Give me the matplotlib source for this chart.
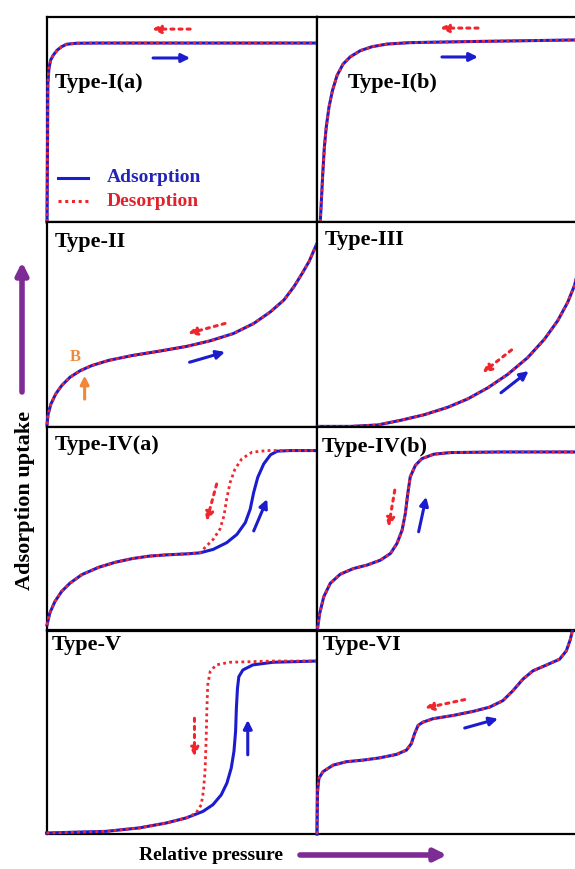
import matplotlib.pyplot as plt

plt.rcParams["font.family"] = ["Liberation Serif", "DejaVu Serif"]
plt.rcParams["font.weight"] = "bold"

BLUE = "#1c1ccf"
RED = "#f0262e"
PURPLE = "#7d2c96"
ORANGE = "#f0883a"

# isotherm shapes (relative pressure 0-1, uptake 0-1)
t1a_x = [0.002, 0.004, 0.005, 0.009, 0.015, 0.025, 0.040, 0.056, 0.074, 0.111, 0.198, 1.0]
t1a_y = [0.0, 0.428, 0.674, 0.748, 0.789, 0.814, 0.839, 0.855, 0.867, 0.872, 0.873, 0.873]

t1b_x = [0.012, 0.016, 0.021, 0.027, 0.034, 0.044, 0.057, 0.074, 0.096, 0.123, 0.160, 0.203,
         0.258, 0.344, 0.554, 0.953, 1.0]
t1b_y = [0.0, 0.099, 0.230, 0.362, 0.461, 0.559, 0.641, 0.715, 0.770, 0.806, 0.836, 0.855,
         0.868, 0.875, 0.880, 0.888, 0.889]

t2_x = [0.002, 0.006, 0.016, 0.034, 0.056, 0.087, 0.125, 0.168, 0.230, 0.318, 0.417, 0.517,
        0.604, 0.691, 0.766, 0.828, 0.878, 0.915, 0.946, 0.971, 0.990, 0.998]
t2_y = [0.013, 0.062, 0.111, 0.161, 0.202, 0.243, 0.275, 0.300, 0.325, 0.349, 0.370, 0.393,
        0.420, 0.456, 0.505, 0.562, 0.620, 0.685, 0.751, 0.808, 0.866, 0.890]

t3_x = [0.002, 0.125, 0.224, 0.310, 0.396, 0.482, 0.556, 0.630, 0.704, 0.777, 0.839, 0.888,
        0.925, 0.950, 0.956, 1.0]
t3_y = [0.003, 0.003, 0.010, 0.033, 0.060, 0.096, 0.137, 0.191, 0.257, 0.338, 0.428, 0.518,
        0.608, 0.690, 0.722, 0.880]

t4a_ads_x = [0.002, 0.012, 0.031, 0.056, 0.087, 0.131, 0.193, 0.255, 0.318, 0.380, 0.442, 0.517,
             0.567, 0.616, 0.666, 0.704, 0.735, 0.753, 0.766, 0.781, 0.803, 0.828, 0.853, 0.903, 1.0]
t4a_ads_y = [0.025, 0.083, 0.140, 0.190, 0.231, 0.273, 0.309, 0.334, 0.352, 0.364, 0.370, 0.375,
             0.380, 0.397, 0.430, 0.471, 0.529, 0.595, 0.678, 0.752, 0.818, 0.863, 0.881, 0.884, 0.884]
t4a_des_x = [0.002, 0.012, 0.031, 0.056, 0.087, 0.131, 0.193, 0.255, 0.318, 0.380, 0.442, 0.517,
             0.567, 0.585, 0.616, 0.641, 0.656, 0.666, 0.679, 0.697, 0.722, 0.760, 0.816, 1.0]
t4a_des_y = [0.025, 0.083, 0.140, 0.190, 0.231, 0.273, 0.309, 0.334, 0.352, 0.364, 0.370, 0.375,
             0.380, 0.405, 0.446, 0.496, 0.562, 0.645, 0.727, 0.793, 0.843, 0.876, 0.884, 0.884]

t4b_x = [0.002, 0.010, 0.025, 0.049, 0.086, 0.135, 0.185, 0.234, 0.271, 0.295, 0.314, 0.326,
         0.335, 0.344, 0.363, 0.387, 0.431, 0.492, 0.677, 1.0]
t4b_y = [0.008, 0.082, 0.164, 0.230, 0.275, 0.303, 0.320, 0.344, 0.377, 0.426, 0.492, 0.574,
         0.672, 0.754, 0.811, 0.844, 0.866, 0.874, 0.877, 0.877]

t5_ads_x = [0.0, 0.220, 0.343, 0.442, 0.516, 0.578, 0.615, 0.646, 0.667, 0.683, 0.693, 0.699,
            0.702, 0.706, 0.711, 0.726, 0.763, 0.837, 1.0]
t5_ads_y = [0.005, 0.013, 0.030, 0.054, 0.079, 0.111, 0.144, 0.193, 0.251, 0.325, 0.407, 0.505,
            0.620, 0.718, 0.775, 0.808, 0.833, 0.846, 0.852]
t5_des_x = [0.0, 0.220, 0.343, 0.442, 0.516, 0.553, 0.572, 0.580, 0.586, 0.590, 0.593, 0.596,
            0.605, 0.627, 0.677, 0.837, 1.0]
t5_des_y = [0.005, 0.013, 0.030, 0.054, 0.079, 0.103, 0.144, 0.210, 0.308, 0.456, 0.620, 0.734,
            0.800, 0.833, 0.846, 0.852, 0.852]

t6_x = [0.0, 0.002, 0.007, 0.022, 0.059, 0.108, 0.170, 0.231, 0.293, 0.330, 0.348, 0.360,
        0.373, 0.391, 0.428, 0.502, 0.576, 0.637, 0.686, 0.723, 0.760, 0.797, 0.846, 0.895,
        0.920, 0.935, 0.942]
t6_y = [0.0, 0.209, 0.274, 0.307, 0.339, 0.356, 0.364, 0.375, 0.392, 0.413, 0.445, 0.494,
        0.535, 0.551, 0.568, 0.584, 0.604, 0.625, 0.657, 0.706, 0.763, 0.804, 0.832, 0.861,
        0.902, 0.959, 1.0]


def arrow(ax, start, end, color, dotted=False):
    ax.annotate("", xy=end, xytext=start,
                arrowprops=dict(arrowstyle="-|>,head_length=0.5,head_width=0.25",
                                color=color, lw=2.2, ls=":" if dotted else "-",
                                shrinkA=0, shrinkB=0))


def panel(ax, label, ads_x, ads_y, des_x, des_y, label_x=0.03, label_y=0.91):
    ax.plot(ads_x, ads_y, color=BLUE, lw=2.2, solid_joinstyle="round", clip_on=False, zorder=3)
    ax.plot(des_x, des_y, color=RED, lw=2.0, ls=(0, (1, 1.2)), clip_on=False, zorder=4)
    ax.text(label_x, label_y, label, transform=ax.transAxes, fontsize=16,
            fontweight="bold", va="center", ha="left")
    ax.set_xlim(0, 1)
    ax.set_ylim(0, 1)
    ax.set_xticks([])
    ax.set_yticks([])
    for s in ax.spines.values():
        s.set_linewidth(1.6)


fig = plt.figure(figsize=(5.75, 8.69), dpi=100)
W, H = 575.0, 869.0
cols = [(46.5, 270.5), (317.0, 271.0)]
rows = [(17, 205), (222, 205), (427, 203), (631, 203)]
axes = []
for top, h in rows:
    r = []
    for left, w in cols:
        r.append(fig.add_axes([left / W, 1 - (top + h) / H, w / W, h / H]))
    axes.append(r)

# Type-I(a)
ax = axes[0][0]
panel(ax, "Type-I(a)", t1a_x, t1a_y, t1a_x, t1a_y, label_y=0.678)
arrow(ax, (0.531, 0.941), (0.390, 0.941), RED, dotted=True)
arrow(ax, (0.394, 0.80), (0.531, 0.80), BLUE)
ax.plot([0.043, 0.153], [0.215, 0.215], color=BLUE, lw=2.2)
ax.plot([0.043, 0.153], [0.102, 0.102], color=RED, lw=2.2, ls=(0, (1, 1.2)))
ax.text(0.224, 0.215, "Adsorption", color="#2323b8", fontsize=14, va="center")
ax.text(0.224, 0.102, "Desorption", color="#e0222b", fontsize=14, va="center")

# Type-I(b)
ax = axes[0][1]
panel(ax, "Type-I(b)", t1b_x, t1b_y, t1b_x, t1b_y, label_x=0.114, label_y=0.678)
arrow(ax, (0.594, 0.946), (0.454, 0.946), RED, dotted=True)
arrow(ax, (0.461, 0.805), (0.594, 0.805), BLUE)

# Type-II
ax = axes[1][0]
panel(ax, "Type-II", t2_x, t2_y, t2_x, t2_y, label_y=0.902)
arrow(ax, (0.66, 0.505), (0.523, 0.456), RED, dotted=True)
arrow(ax, (0.529, 0.316), (0.66, 0.366), BLUE)
ax.text(0.106, 0.341, "B", color=ORANGE, fontsize=12, ha="center", va="center")
arrow(ax, (0.141, 0.136), (0.141, 0.251), ORANGE)

# Type-III
ax = axes[1][1]
panel(ax, "Type-III", t3_x, t3_y, t3_x, t3_y, label_y=0.912)
arrow(ax, (0.718, 0.376), (0.611, 0.265), RED, dotted=True)
arrow(ax, (0.679, 0.167), (0.781, 0.273), BLUE)

# Type-IV(a)
ax = axes[2][0]
panel(ax, "Type-IV(a)", t4a_ads_x, t4a_ads_y, t4a_des_x, t4a_des_y, label_y=0.911)
arrow(ax, (0.629, 0.719), (0.592, 0.537), RED, dotted=True)
arrow(ax, (0.766, 0.488), (0.816, 0.645), BLUE)

# Type-IV(b)
ax = axes[2][1]
panel(ax, "Type-IV(b)", t4b_x, t4b_y, t4b_x, t4b_y, label_x=0.018, label_y=0.901)
arrow(ax, (0.287, 0.689), (0.264, 0.508), RED, dotted=True)
arrow(ax, (0.375, 0.484), (0.403, 0.656), BLUE)

# Type-V
ax = axes[3][0]
panel(ax, "Type-V", t5_ads_x, t5_ads_y, t5_des_x, t5_des_y, label_x=0.02, label_y=0.931)
arrow(ax, (0.547, 0.57), (0.547, 0.382), RED, dotted=True)
arrow(ax, (0.744, 0.39), (0.744, 0.562), BLUE)

# Type-VI
ax = axes[3][1]
panel(ax, "Type-VI", t6_x, t6_y, t6_x, t6_y, label_x=0.02, label_y=0.931)
arrow(ax, (0.545, 0.662), (0.397, 0.62), RED, dotted=True)
arrow(ax, (0.545, 0.522), (0.668, 0.568), BLUE)

# outer axis labels with purple arrows
fig.text(25 / W, 1 - 500 / H, "Adsorption uptake", rotation=90, fontsize=16,
         fontweight="bold", ha="center", va="center")
fig.text(211 / W, 1 - 855 / H, "Relative pressure", fontsize=14,
         fontweight="bold", ha="center", va="center")
purple = dict(arrowstyle="-|>,head_length=0.7,head_width=0.35", color=PURPLE,
              lw=4, shrinkA=0, shrinkB=0)
plt.annotate("", xy=(22 / W, 1 - 262 / H), xytext=(22 / W, 1 - 392 / H),
             xycoords="figure fraction", textcoords="figure fraction", arrowprops=purple)
plt.annotate("", xy=(447 / W, 1 - 855 / H), xytext=(300 / W, 1 - 855 / H),
             xycoords="figure fraction", textcoords="figure fraction", arrowprops=purple)

fig.savefig("out.png", dpi=100)
